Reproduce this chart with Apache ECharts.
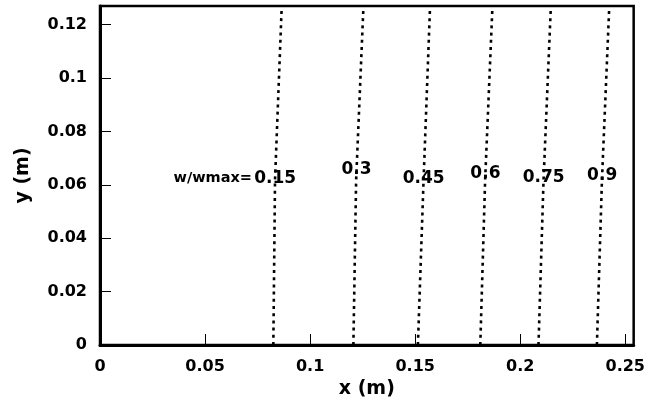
<!DOCTYPE html>
<html>
<head>
<meta charset="utf-8">
<script src="https://cdn.jsdelivr.net/npm/echarts@6/dist/echarts.min.js"></script>
<style>html,body{margin:0;padding:0;background:#fff;}#c{width:648px;height:406px;}</style>
</head>
<body>
<div id="c"></div>
<script>
// Contour levels w/wmax
var levels = ['0.15', '0.3', '0.45', '0.6', '0.75', '0.9'];
// y samples (m) along each contour line
var ySamples = [0, 0.0617, 0.127];
// x positions (m) of each contour at the y samples (bottom, middle, top)
var xLine015 = [0.0825, 0.0833, 0.0865];
var xLine030 = [0.1206, 0.1219, 0.1254];
var xLine045 = [0.1513, 0.1540, 0.1571];
var xLine060 = [0.1810, 0.1833, 0.1868];
var xLine075 = [0.2087, 0.2111, 0.2146];
var xLine090 = [0.2365, 0.2389, 0.2424];
// label anchor heights (m) for each level label
var labelY = [0.0625, 0.0659, 0.0625, 0.0644, 0.0629, 0.0636];
var labelPrefix = 'w/wmax=';
var xTicks = [0, 0.05, 0.1, 0.15, 0.2, 0.25];
var yTicks = [0, 0.02, 0.04, 0.06, 0.08, 0.1, 0.12];

var lines = [xLine015, xLine030, xLine045, xLine060, xLine075, xLine090];
var FONT = 'DejaVu Sans';

function isTick(v, arr) {
  for (var i = 0; i < arr.length; i++) if (Math.abs(arr[i] - v) < 1e-9) return true;
  return false;
}

var series = lines.map(function (xs, i) {
  return {
    type: 'line',
    name: levels[i],
    data: xs.map(function (x, j) { return [x, ySamples[j]]; }),
    showSymbol: false,
    smooth: false,
    silent: true,
    lineStyle: { color: '#000', width: 2.6, type: [3, 4.2] }
  };
});

// level labels, centered on each line at the label height
series.push({
  type: 'scatter',
  silent: true,
  symbolSize: 0,
  itemStyle: { opacity: 1 },
  data: lines.map(function (xs, i) {
    var y = labelY[i];
    var k = y <= ySamples[1] ? 0 : 1;
    var t = (y - ySamples[k]) / (ySamples[k + 1] - ySamples[k]);
    return { value: [xs[k] + t * (xs[k + 1] - xs[k]), y], name: levels[i] };
  }),
  label: {
    show: true,
    position: 'inside',
    formatter: function (p) { return p.name; },
    color: '#000',
    opacity: 1,
    fontFamily: FONT,
    fontWeight: 'bold',
    fontSize: 17
  }
});

// prefix label "w/wmax=" to the left of the first level label
series.push({
  type: 'scatter',
  silent: true,
  symbolSize: 0,
  itemStyle: { opacity: 1 },
  data: [{ value: [xLine015[1], labelY[0]], name: labelPrefix }],
  label: {
    show: true,
    position: 'left',
    distance: 23,
    formatter: function (p) { return p.name; },
    color: '#000',
    opacity: 1,
    fontFamily: FONT,
    fontWeight: 'bold',
    fontSize: 14.5
  }
});

var chart = echarts.init(document.getElementById('c'), null, { renderer: 'canvas' });
chart.setOption({
  animation: false,
  backgroundColor: '#fff',
  grid: {
    left: 100, right: 14, top: 6, bottom: 61,
    show: true, borderColor: '#000', borderWidth: 2.5, backgroundColor: 'transparent'
  },
  xAxis: {
    type: 'value',
    min: 0, max: 0.254, interval: 0.05,
    name: 'x (m)',
    nameLocation: 'middle',
    nameGap: 29,
    nameTextStyle: { fontFamily: FONT, fontWeight: 'bold', fontSize: 19, color: '#000' },
    axisLine: { show: true, lineStyle: { color: '#000', width: 3 } },
    axisTick: { show: true, inside: true, length: 11, lineStyle: { color: '#000', width: 1 } },
    splitLine: { show: false },
    axisLabel: {
      margin: 14,
      showMaxLabel: false,
      color: '#000', fontFamily: FONT, fontWeight: 'bold', fontSize: 16,
      formatter: function (v) { return isTick(v, xTicks) ? String(+v.toFixed(3)) : ''; }
    }
  },
  yAxis: {
    type: 'value',
    min: 0, max: 0.127, interval: 0.02,
    name: 'y (m)',
    nameLocation: 'middle',
    nameGap: 67,
    nameRotate: 90,
    nameTextStyle: { fontFamily: FONT, fontWeight: 'bold', fontSize: 19, color: '#000' },
    axisLine: { show: true, lineStyle: { color: '#000', width: 3 } },
    axisTick: { show: true, inside: true, length: 11, lineStyle: { color: '#000', width: 1 } },
    splitLine: { show: false },
    axisLabel: {
      margin: 13,
      showMaxLabel: false,
      color: '#000', fontFamily: FONT, fontWeight: 'bold', fontSize: 16,
      formatter: function (v) { return isTick(v, yTicks) ? String(+v.toFixed(3)) : ''; }
    }
  },
  series: series
});
</script>
</body>
</html>
